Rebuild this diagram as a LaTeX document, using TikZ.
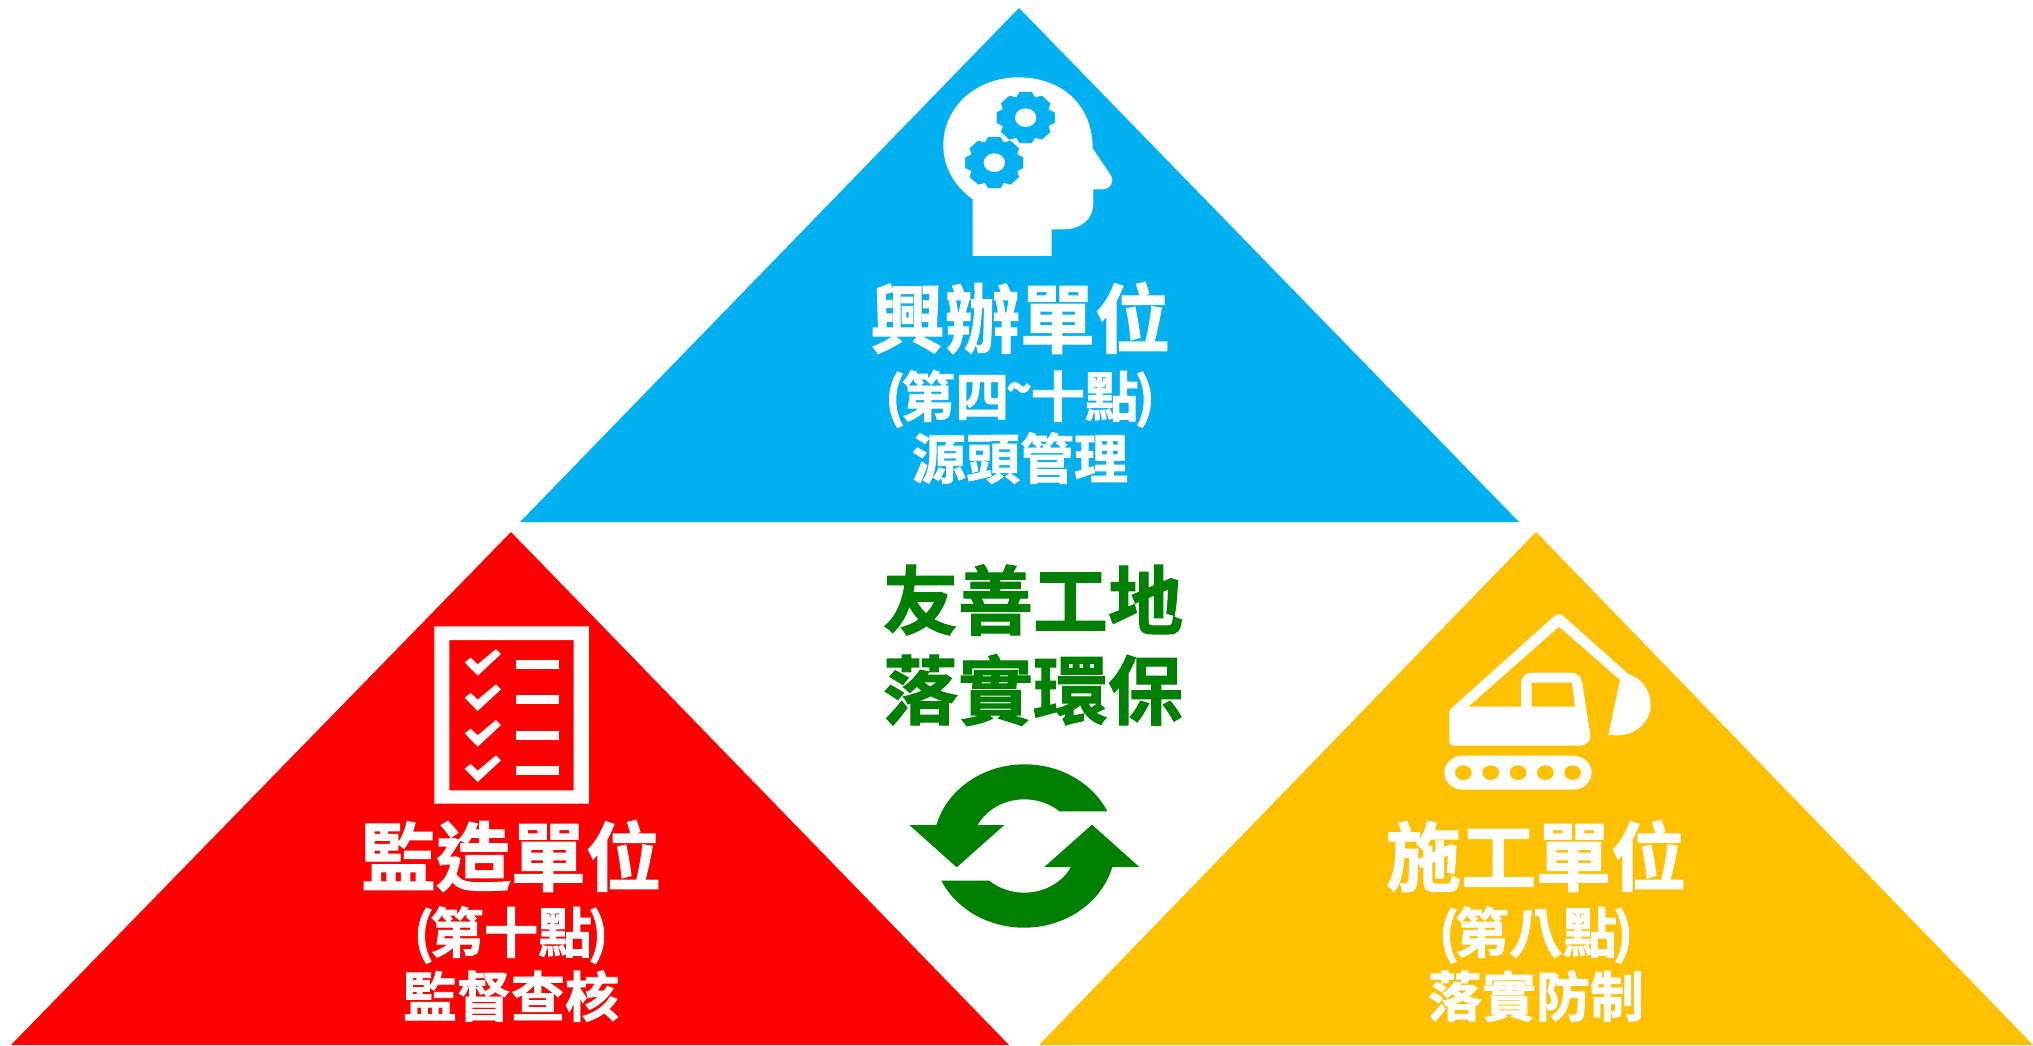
\documentclass[tikz,border=0pt]{standalone}
\usepackage{fontspec}
\newfontfamily\cjk{Noto Sans CJK TC}[BoldFont={Noto Sans CJK TC Bold},BoldFeatures={FakeBold=1.5}]
\definecolor{cblue}{HTML}{00B0F0}
\definecolor{cred}{HTML}{FF0000}
\definecolor{cyel}{HTML}{FFC000}
\definecolor{cgrn}{HTML}{008000}
\newcommand{\lp}{(\hspace{-4pt}}
\newcommand{\rp}{\hspace{-4pt})}
\tikzset{
  big/.style={inner sep=0pt,font=\cjk\bfseries\fontsize{75}{80}\selectfont},
  sub/.style={inner sep=0pt,font=\cjk\bfseries\fontsize{54}{60}\selectfont},
  wtxt/.style={text=white},
  gtxt/.style={text=cgrn},
  zoomed/.style={x=0.3333pt,y=-0.3333pt}
}
\newcommand{\gearicon}[2]{%
  \fill[cblue,draw=white,line width=0.5pt,line join=round] ({#1+90*0.84*cos(-22.5)},{#2+80*0.84*sin(-22.5)})
  \foreach \a in {0,45,...,315}{
    -- ({#1+90*cos(\a-12)},{#2+80*sin(\a-12)})
    -- ({#1+90*cos(\a+12)},{#2+80*sin(\a+12)})
    -- ({#1+90*0.84*cos(\a+22.5)},{#2+80*0.84*sin(\a+22.5)})
  } -- cycle;
  \fill[white] (#1,#2) ellipse [x radius=32,y radius=28];
}
\begin{document}
\begin{tikzpicture}[x=1pt,y=-1pt]
\useasboundingbox (0,0) rectangle (2033,1045);
\fill[white] (0,0) rectangle (2033,1045);
% triangles
\fill[cblue] (1019,8) -- (1519,522) -- (520,522) -- cycle;
\fill[cred] (511,532) -- (1009,1045) -- (11,1045) -- cycle;
\fill[cyel] (1536,532) -- (2033,1045) -- (1039,1045) -- cycle;
% head
\begin{scope}[shift={(900,50)},zoomed]
\fill[white] (218,618) -- (218,448) .. controls (160,405) and (130,350) .. (130,285)
  .. controls (130,170) and (230,82) .. (355,82)
  .. controls (480,82) and (578,160) .. (578,295)
  -- (632,375) .. controls (645,395) and (630,418) .. (610,418)
  -- (580,418) -- (580,460) .. controls (580,510) and (540,538) .. (490,538)
  -- (455,538) -- (455,618) -- cycle;
\gearicon{283}{338}
\gearicon{377}{203}
\end{scope}
% checklist
\begin{scope}[shift={(410,610)},zoomed]
\fill[white,even odd rule] (73,49) rectangle (537,581) (118,90) rectangle (491,541);
\foreach \d in {0,106,213,319}{
  \fill[white,yshift=-\d*0.3333pt] (164,157) -- (182,143) -- (203,163) -- (258,117) -- (273,132) -- (203,197) -- cycle;
  \fill[white,yshift=-\d*0.3333pt] (319,150) rectangle (447,176);
}
\end{scope}
% excavator
\begin{scope}[shift={(1420,600)},zoomed]
\fill[white] (88,335) .. controls (88,331) and (90,328) .. (93,326) -- (403,48) .. controls (410,42) and (422,42) .. (430,48)
  -- (625,222) .. controls (665,235) and (692,270) .. (692,315)
  .. controls (692,370) and (640,408) .. (590,406) -- (565,405)
  -- (600,240) -- (417,80) -- (145,320) -- (303,320) -- (303,250)
  .. controls (303,230) and (318,218) .. (335,218)
  -- (455,218) .. controls (472,218) and (485,230) .. (487,250)
  -- (511,405) .. controls (512,425) and (498,437) .. (480,437)
  -- (100,437) .. controls (92,437) and (88,432) .. (88,425) -- cycle;
\fill[cyel] (335,248) -- (455,248) -- (465,320) -- (335,320) -- cycle;
\fill[white] (73,518) arc [start angle=180,end angle=270,x radius=56,y radius=51]
  -- (459,467) arc [start angle=270,end angle=450,x radius=56,y radius=51]
  -- (129,569) arc [start angle=90,end angle=180,x radius=56,y radius=51] -- cycle;
\foreach \x in {130,212,294,376,458}{
  \fill[cyel] (\x,518) ellipse [x radius=25,y radius=22];
}
\end{scope}
% cycle arrows
\begin{scope}[shift={(890,750)},zoomed]
\foreach \r in {0,180}{
\begin{scope}[rotate around={\r:(403,288)}]
\fill[cgrn] (652,184) arc [start angle=334.9,end angle=194.9,x radius=274,y radius=245]
  -- (58,225) -- (200,352) -- (343,225) -- (263,225)
  arc [start angle=206.7,end angle=312,x radius=157,y radius=140] -- cycle;
\end{scope}}
\end{scope}
% text
\node[big,wtxt] (t1) at (1020,318) {興辦單位};
\node[sub,wtxt] (t2) at (1020,399) {\lp 第四\hspace{-3pt}\raisebox{9pt}{\scalebox{0.8}[1]{\char"7E}}\hspace{-1pt}十點\rp};
\node[sub,wtxt] (t3) at (1020,458) {源頭管理};
\node[big,wtxt] (l1) at (511,856) {監造單位};
\node[sub,wtxt] (l2) at (511,935) {\lp 第十點\rp};
\node[sub,wtxt] (l3) at (511,996) {監督查核};
\node[big,wtxt] (r1) at (1536,856) {施工單位};
\node[sub,wtxt] (r2) at (1536,935) {\lp 第八點\rp};
\node[sub,wtxt] (r3) at (1536,996) {落實防制};
\node[big,gtxt] (c1) at (1033,600) {友善工地};
\node[big,gtxt] (c2) at (1033,690) {落實環保};
\end{tikzpicture}
\end{document}
